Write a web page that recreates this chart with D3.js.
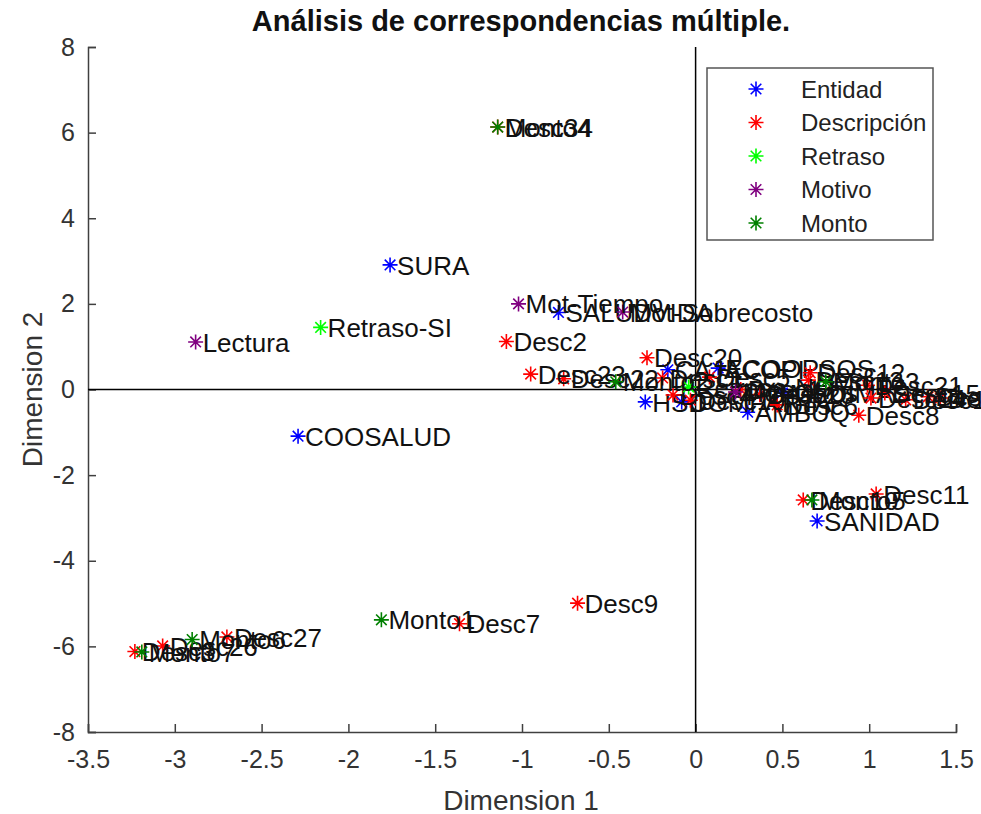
<!DOCTYPE html>
<html>
<head>
<meta charset="utf-8">
<script src="https://cdn.jsdelivr.net/npm/d3@7"></script>
<style>
  body { margin: 0; background: #fff; }
  svg text { font-family: "Liberation Sans", Arial, Helvetica, sans-serif; }
</style>
</head>
<body>
<svg id="chart" width="981" height="814"></svg>
<script>
// Category coordinates on the first two MCA dimensions
const entidadLabels = ["SURA", "COOSALUD", "SALUDVIDA", "CAJACOPI", "ECOOPSOS", "HSD", "COMPARTA", "AMBUQ", "MEDIMAS", "SANIDAD"];
const entidadX = [-1.76, -2.29, -0.79, -0.16, 0.13, -0.29, -0.08, 0.30, 0.50, 0.70];
const entidadY = [2.91, -1.09, 1.80, 0.46, 0.50, -0.29, -0.29, -0.53, -0.08, -3.07];

const descLabels = ["Desc1", "Desc2", "Desc3", "Desc4", "Desc5", "Desc6", "Desc7", "Desc8", "Desc9", "Desc10",
  "Desc11", "Desc12", "Desc13", "Desc14", "Desc15", "Desc16", "Desc17", "Desc18", "Desc19", "Desc20",
  "Desc21", "Desc22", "Desc23", "Desc25", "Desc26", "Desc27", "Desc28", "Desc34"];
const descX = [-0.19, -1.09, -3.23, -0.13, 0.08, 0.47, -1.36, 0.94, -0.68, 0.62,
  1.04, 0.66, 0.65, 1.01, 1.09, 1.34, 0.26, 1.21, -0.03, -0.28,
  0.99, -0.76, -0.95, 0.37, -3.07, -2.70, 1.41, -1.14];
const descY = [0.27, 1.12, -6.12, -0.13, 0.29, -0.36, -5.47, -0.60, -4.99, -2.58,
  -2.44, 0.39, 0.22, -0.20, -0.08, -0.17, 0.00, -0.24, -0.25, 0.74,
  0.10, 0.25, 0.36, -0.12, -5.99, -5.78, -0.20, 6.13];

const retrasoLabels = ["Retraso-SI", "Retraso-NO"];
const retrasoX = [-2.16, -0.04];
const retrasoY = [1.45, 0.06];

const motivoLabels = ["Lectura", "Mot-Tiempo", "Mot-Sobrecosto", "Mot-Otros"];
const motivoX = [-2.88, -1.02, -0.42, 0.23];
const motivoY = [1.11, 2.00, 1.81, -0.06];

const montoLabels = ["Monto1", "Monto2", "Monto3", "Monto4", "Monto5", "Monto6", "Monto7"];
const montoX = [-1.81, -0.46, 0.75, -1.14, 0.67, -2.90, -3.19];
const montoY = [-5.38, 0.18, 0.18, 6.13, -2.58, -5.84, -6.13];

const groupNames = ["Entidad", "Descripción", "Retraso", "Motivo", "Monto"];
const groupColors = ["#0000ff", "#ff0000", "#00ff00", "#800080", "#008000"];

const xTicks = [-3.5, -3, -2.5, -2, -1.5, -1, -0.5, 0, 0.5, 1, 1.5];
const yTicks = [-8, -6, -4, -2, 0, 2, 4, 6, 8];

const groups = [
  { labels: entidadLabels, xs: entidadX, ys: entidadY },
  { labels: descLabels, xs: descX, ys: descY },
  { labels: retrasoLabels, xs: retrasoX, ys: retrasoY },
  { labels: motivoLabels, xs: motivoX, ys: motivoY },
  { labels: montoLabels, xs: montoX, ys: montoY }
];

const svg = d3.select("#chart");
const plotLeft = 88, plotRight = 956, plotTop = 47, plotBottom = 732;
const axisColor = "#404040";

const x = d3.scaleLinear().domain([-3.5, 1.5]).range([plotLeft, plotRight]);
const y = d3.scaleLinear().domain([-8, 8]).range([plotBottom, plotTop]);

// Axes with inward ticks, no box
const xAxis = d3.axisBottom(x).tickValues(xTicks).tickSize(-8).tickPadding(15)
  .tickFormat(d => String(d));
const yAxis = d3.axisLeft(y).tickValues(yTicks).tickSize(-8).tickPadding(13)
  .tickFormat(d => String(d));

const gx = svg.append("g").attr("transform", `translate(0,${plotBottom})`).call(xAxis);
const gy = svg.append("g").attr("transform", `translate(${plotLeft},0)`).call(yAxis);
[gx, gy].forEach(g => {
  g.select(".domain").attr("stroke", axisColor).attr("stroke-width", 1.5);
  g.selectAll(".tick line").attr("stroke", axisColor).attr("stroke-width", 1.5);
  g.selectAll(".tick text").attr("fill", "#333").style("font-size", "25px")
    .style("font-family", "'Liberation Sans', Arial, sans-serif");
});
gx.selectAll(".tick text").attr("dy", "0.85em");

// Reference lines through the origin
svg.append("line").attr("x1", x(-3.5)).attr("x2", x(1.5)).attr("y1", y(0)).attr("y2", y(0))
  .attr("stroke", "#000").attr("stroke-width", 1.5);
svg.append("line").attr("x1", x(0)).attr("x2", x(0)).attr("y1", y(-8)).attr("y2", y(8))
  .attr("stroke", "#000").attr("stroke-width", 1.5);

// Asterisk marker
function starPath(r) {
  const d = r * Math.SQRT1_2;
  return `M${-r},0L${r},0M0,${-r}L0,${r}M${-d},${-d}L${d},${d}M${-d},${d}L${d},${-d}`;
}

const plot = svg.append("g");
groups.forEach((g, gi) => {
  const pts = g.labels.map((lab, i) => ({ lab, vx: g.xs[i], vy: g.ys[i] }));
  const layer = plot.append("g");
  layer.selectAll("path").data(pts).join("path")
    .attr("d", starPath(7.5))
    .attr("transform", d => `translate(${x(d.vx)},${y(d.vy)})`)
    .attr("stroke", groupColors[gi]).attr("stroke-width", 1.6).attr("fill", "none");
  layer.selectAll("text").data(pts).join("text")
    .attr("x", d => x(d.vx) + 7)
    .attr("y", d => y(d.vy))
    .attr("dy", "0.37em")
    .attr("fill", "#111")
    .style("font-size", "26px")
    .text(d => d.lab);
});

// Legend
const lg = svg.append("g").attr("transform", "translate(707,68)");
lg.append("rect").attr("width", 226).attr("height", 172)
  .attr("fill", "#fff").attr("stroke", "#555").attr("stroke-width", 1.5);
groupNames.forEach((name, i) => {
  const yy = 21 + i * 33.5;
  lg.append("path").attr("d", starPath(7.5)).attr("transform", `translate(49,${yy})`)
    .attr("stroke", groupColors[i]).attr("stroke-width", 1.6).attr("fill", "none");
  lg.append("text").attr("x", 94).attr("y", yy).attr("dy", "0.36em")
    .attr("fill", "#222").style("font-size", "24px").text(name);
});

// Titles
svg.append("text").attr("x", 521).attr("y", 31).attr("text-anchor", "middle")
  .attr("fill", "#111").style("font-size", "29px").style("font-weight", "bold")
  .text("Análisis de correspondencias múltiple.");
svg.append("text").attr("x", 521).attr("y", 810).attr("text-anchor", "middle")
  .attr("fill", "#333").style("font-size", "28px").text("Dimension 1");
svg.append("text").attr("transform", `translate(42,${(plotTop + plotBottom) / 2}) rotate(-90)`)
  .attr("text-anchor", "middle").attr("fill", "#333").style("font-size", "28px").text("Dimension 2");
</script>
</body>
</html>
